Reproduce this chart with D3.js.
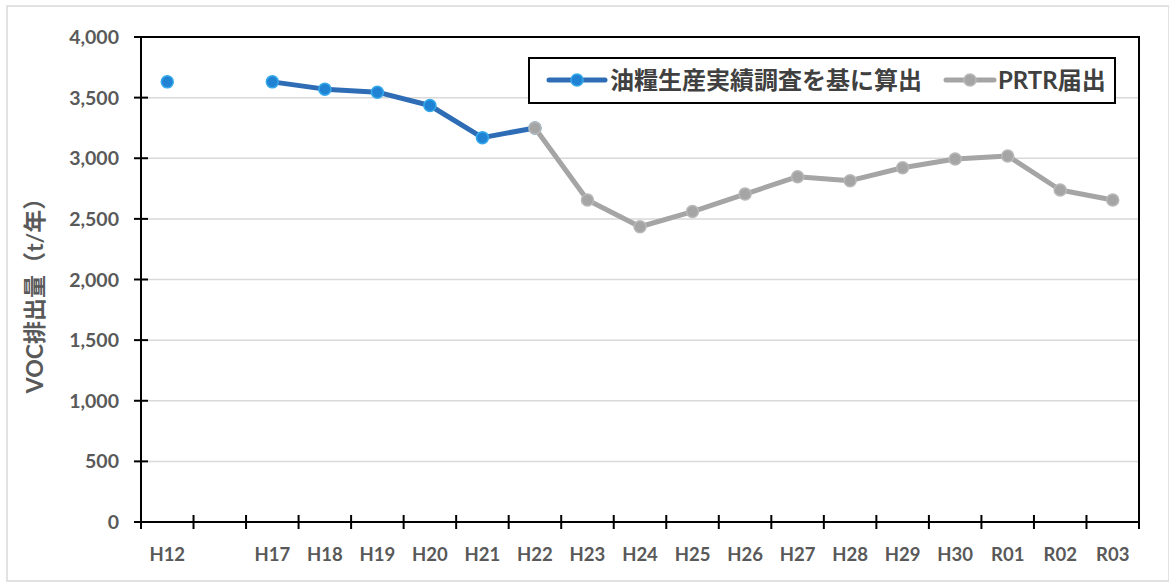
<!DOCTYPE html>
<html>
<head>
<meta charset="utf-8">
<script src="https://cdn.jsdelivr.net/npm/d3@7"></script>
<style>
  html, body { margin: 0; padding: 0; background: #fff; }
  svg { display: block; }
  text { font-family: Lato, "Noto Sans CJK JP", sans-serif; font-weight: 700; fill: #595959; }
</style>
</head>
<body>
<svg id="chart" width="1169" height="583"></svg>
<script>
// Fiscal-year categories (one empty slot marks the gap between H12 and H17)
const categories = ["H12", "", "H17", "H18", "H19", "H20", "H21", "H22", "H23", "H24",
                    "H25", "H26", "H27", "H28", "H29", "H30", "R01", "R02", "R03"];

// VOC emissions estimated from oil & fat production statistics (t/year)
const surveyValues = [3630, null, 3630, 3570, 3545, 3435, 3170, 3250, null, null,
                      null, null, null, null, null, null, null, null, null];

// VOC emissions from PRTR notifications (t/year)
const prtrValues = [null, null, null, null, null, null, null, 3250, 2655, 2435,
                    2560, 2705, 2848, 2815, 2922, 2994, 3019, 2738, 2656];

const yTicks = [0, 500, 1000, 1500, 2000, 2500, 3000, 3500, 4000];

const seriesNames = ["油糧生産実績調査を基に算出", "PRTR届出"];
const yTitle = "VOC排出量（t/年）";

const svg = d3.select("#chart");
const W = 1169, H = 583;
const plot = { left: 141, right: 1139, top: 37, bottom: 522 };

// outer chart frame
svg.append("rect")
  .attr("x", 7).attr("y", 6).attr("width", W - 7).attr("height", H - 8)
  .attr("fill", "#fff").attr("stroke", "#d9d9d9").attr("stroke-width", 1.5);

const x = d3.scaleBand().domain(d3.range(categories.length))
  .range([plot.left, plot.right]).paddingInner(0).paddingOuter(0);
const y = d3.scaleLinear().domain([0, 4000]).range([plot.bottom, plot.top]);
const cx = i => x(i) + x.bandwidth() / 2;

// horizontal gridlines
svg.append("g").selectAll("line").data(yTicks.filter(t => t > 0 && t < 4000)).join("line")
  .attr("x1", plot.left).attr("x2", plot.right)
  .attr("y1", d => y(d)).attr("y2", d => y(d))
  .attr("stroke", "#d9d9d9").attr("stroke-width", 1.5);

// plot-area frame
svg.append("rect")
  .attr("x", plot.left).attr("y", plot.top)
  .attr("width", plot.right - plot.left).attr("height", plot.bottom - plot.top)
  .attr("fill", "none").attr("stroke", "#000").attr("stroke-width", 2);

// y-axis: ticks crossing the axis line, labels on the left
const yAxis = svg.append("g");
yAxis.selectAll("line").data(yTicks).join("line")
  .attr("x1", plot.left - 7).attr("x2", plot.left + 7)
  .attr("y1", d => y(d)).attr("y2", d => y(d))
  .attr("stroke", "#000").attr("stroke-width", 2);
yAxis.selectAll("text").data(yTicks).join("text")
  .attr("x", 119).attr("y", d => y(d))
  .attr("dy", "0.36em").attr("text-anchor", "end")
  .style("font-size", "19.5px")
  .text(d => d3.format(",")(d));

// x-axis: ticks at category boundaries, labels centred in each category
const xAxis = svg.append("g");
const bounds = d3.range(categories.length + 1).map(i => i < categories.length ? x(i) : plot.right);
xAxis.selectAll("line").data(bounds).join("line")
  .attr("x1", d => d).attr("x2", d => d)
  .attr("y1", plot.bottom - 7).attr("y2", plot.bottom + 7)
  .attr("stroke", "#000").attr("stroke-width", 2);
xAxis.selectAll("text").data(categories).join("text")
  .attr("x", (d, i) => cx(i)).attr("y", 561)
  .attr("text-anchor", "middle")
  .style("font-size", "18.5px")
  .text(d => d);

// y-axis title
svg.append("text")
  .attr("transform", "translate(43,290) rotate(-90)")
  .attr("text-anchor", "middle")
  .style("font-size", "23px")
  .text(yTitle);

const line = d3.line()
  .defined(d => d.v !== null)
  .x(d => cx(d.i)).y(d => y(d.v));

const styles = [
  { values: surveyValues, lineColor: "#2e6db5", fill: "#1f82d2", stroke: "#35a9ec" },
  { values: prtrValues, lineColor: "#a5a5a5", fill: "#a5a5a5", stroke: "#b8b8b8" }
];

styles.forEach(s => {
  const pts = s.values.map((v, i) => ({ i, v }));
  svg.append("path").datum(pts)
    .attr("d", line)
    .attr("fill", "none").attr("stroke", s.lineColor)
    .attr("stroke-width", 5).attr("stroke-linejoin", "round");
  svg.append("g").selectAll("circle").data(pts.filter(d => d.v !== null)).join("circle")
    .attr("cx", d => cx(d.i)).attr("cy", d => y(d.v)).attr("r", 6)
    .attr("fill", s.fill).attr("stroke", s.stroke).attr("stroke-width", 1.5);
});

// legend
const lg = svg.append("g");
lg.append("rect")
  .attr("x", 529).attr("y", 58).attr("width", 586).attr("height", 45)
  .attr("fill", "#fff").attr("stroke", "#000").attr("stroke-width", 2);
const legendItems = [
  { x0: 549, x1: 605, tx: 610, style: styles[0], name: seriesNames[0] },
  { x0: 946, x1: 994, tx: 998, style: styles[1], name: seriesNames[1] }
];
legendItems.forEach(it => {
  lg.append("line")
    .attr("x1", it.x0).attr("x2", it.x1).attr("y1", 80).attr("y2", 80)
    .attr("stroke", it.style.lineColor).attr("stroke-width", 5).attr("stroke-linecap", "round");
  lg.append("circle")
    .attr("cx", (it.x0 + it.x1) / 2).attr("cy", 80).attr("r", 6)
    .attr("fill", it.style.fill).attr("stroke", it.style.stroke).attr("stroke-width", 1.5);
  lg.append("text")
    .attr("x", it.tx).attr("y", 80).attr("dy", "0.36em")
    .style("font-size", "24px")
    .style("fill", "#404040")
    .text(it.name);
});
</script>
</body>
</html>
